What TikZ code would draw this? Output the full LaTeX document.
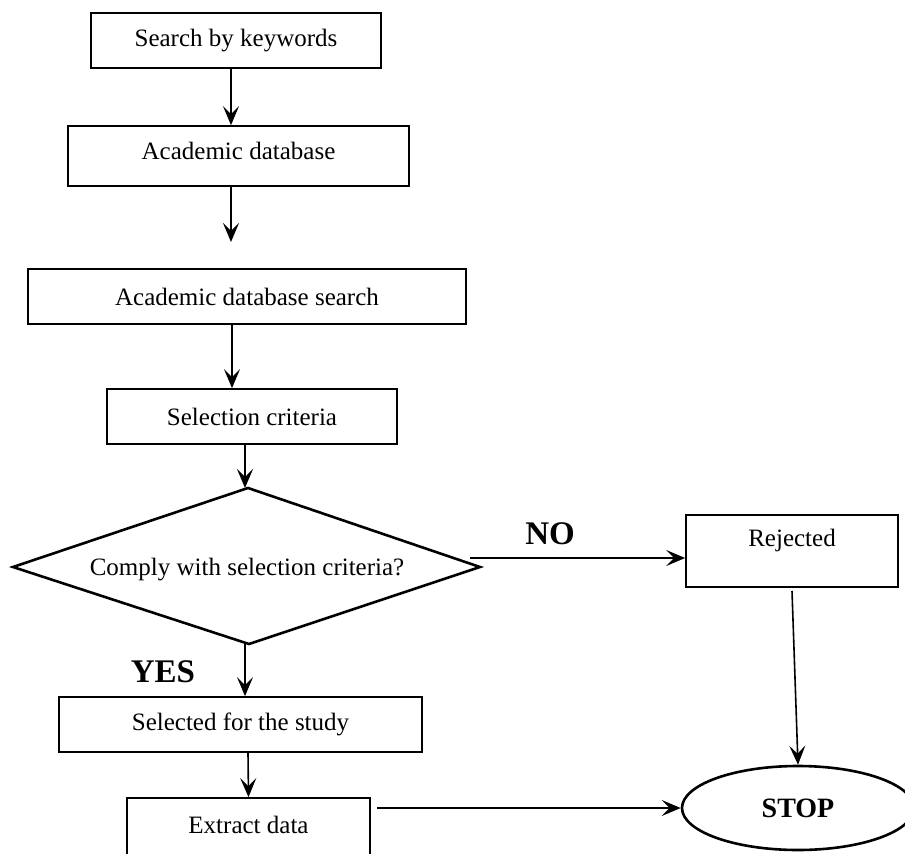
\documentclass[tikz,border=0pt]{standalone}
\usepackage{fontspec}
\setmainfont{Liberation Serif}
\usetikzlibrary{arrows.meta,shapes.geometric}
\begin{document}
\begin{tikzpicture}[x=1pt,y=-1pt,
  box/.style={draw, line width=1.7pt, inner sep=0pt, font=\fontsize{25}{30}\selectfont},
  txt/.style={inner sep=0pt, font=\fontsize{25}{30}\selectfont},
  arr/.style={-{Stealth[length=19pt,width=16pt,inset=8pt]}, line width=1.6pt},
  lbl/.style={inner sep=0pt, font=\fontsize{33}{36}\selectfont\bfseries}]
\useasboundingbox (0,0) rectangle (905,854);
\clip (0,0) rectangle (905,854);

\node[box, minimum width=290pt, minimum height=55pt] (b1) at (236,40.5) {Search by keywords};
\node[box, minimum width=341pt, minimum height=60pt] (b2) at (238.5,156) {};
\node[txt] (b2t) at (238.5,151) {Academic database};
\node[box, minimum width=438pt, minimum height=55pt] (b3) at (247,296.5) {Academic database search};
\node[box, minimum width=290pt, minimum height=55pt] (b4) at (252,416.5) {Selection criteria};

% diamond
\coordinate (dT) at (248,488);
\coordinate (dR) at (480,567);
\coordinate (dB) at (249,644);
\coordinate (dL) at (13,567);
\draw[line width=2.6pt, line join=miter] (dT) -- (dR) -- (dB) -- (dL) -- cycle;
\node[txt] (dtxt) at (247,570) {Comply with selection criteria?};

\node[box, minimum width=212pt, minimum height=72pt] (rej) at (792,551) {};
\node[txt] (rejt) at (792,540) {Rejected};

\node[box, minimum width=363pt, minimum height=55pt] (sel) at (240.5,724.5) {Selected for the study};
\node[box, minimum width=243pt, minimum height=62pt] (ext) at (248.5,829) {};
\node[txt] (extt) at (248.5,825) {Extract data};

\node[draw, ellipse, line width=2.6pt, minimum width=232pt, minimum height=84pt, inner sep=0pt,
      font=\fontsize{28}{30}\selectfont\bfseries] (stop) at (798,808) {STOP};

\node[lbl] (no) at (550,534) {NO};
\node[lbl] (yes) at (163,672) {YES};

% connectors
\coordinate (a2e) at (231,242);
\coordinate (dIn) at (245,488);
\coordinate (noS) at (470,558);
\coordinate (rejS) at (792,591);
\coordinate (extS) at (377,808);

\draw[arr] ([xshift=-5pt]b1.south) -- ([xshift=-7.5pt]b2.north);
\draw[arr] ([xshift=-7.5pt]b2.south) -- (a2e);
\draw[arr] ([xshift=-15pt]b3.south) -- ([xshift=-20pt]b4.north);
\draw[arr] ([xshift=-7pt]b4.south) -- (dIn);
\draw[arr] (noS) -- (rej.west |- noS);
\draw[arr] ([xshift=-4pt]dB) -- ([xshift=4.5pt]sel.north);
\draw[arr] ([xshift=7.5pt]sel.south) -- (ext.north);
\draw[arr] (rejS) -- (stop.north);
\draw[arr] (extS) -- (stop.west);
\end{tikzpicture}
\end{document}
